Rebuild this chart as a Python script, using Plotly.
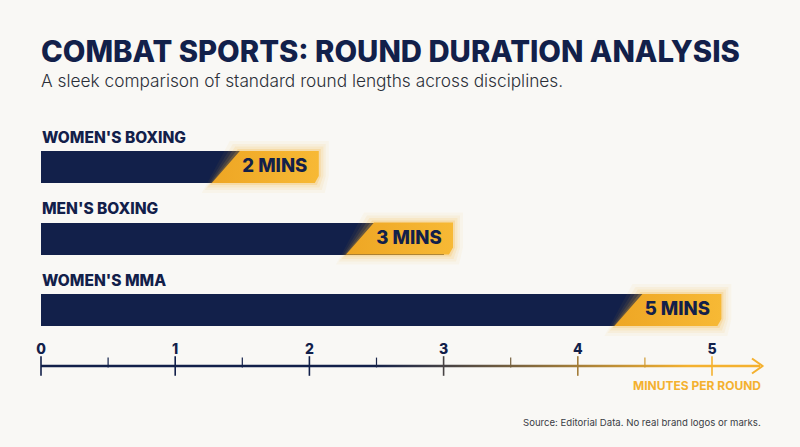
import plotly.graph_objects as go

# ── data ────────────────────────────────────────────────────────
categories = ["WOMEN'S BOXING", "MEN'S BOXING", "WOMEN'S MMA"]
minutes = [2, 3, 5]
value_labels = ["2 MINS", "3 MINS", "5 MINS"]
tick_values = [0, 1, 2, 3, 4, 5]
tick_labels = ["0", "1", "2", "3", "4", "5"]
minor_ticks = [0.5, 1.5, 2.5, 3.5, 4.5]

# ── layout constants (pixels) ───────────────────────────────────
W, H = 800, 447
X0_PX = 41
PX_PER_MIN = 134.2
ROW_Y = [167, 238.5, 310]
BAR_H = 32
AXIS_Y = 366
TAG_PAD = 0.07

NAVY = "#12204a"
GOLD = "#f4b12f"
BG = "#f9f8f5"
FONT = "Inter"


def px(n):
    # pixel length -> minutes
    return n / PX_PER_MIN


def px2x(p):
    return (p - X0_PX) / PX_PER_MIN


def mix(t):
    t = max(0.0, min(1.0, t))
    a = [int(NAVY[i:i + 2], 16) for i in (1, 3, 5)]
    b = [int(GOLD[i:i + 2], 16) for i in (1, 3, 5)]
    c = [round(a[k] + (b[k] - a[k]) * t) for k in range(3)]
    return f"rgb({c[0]},{c[1]},{c[2]})"


def axis_color(v):
    # same ramp as the axis line gradient
    return mix((v - 2.4) / (4.9 - 2.4))


def tag_shape(v, yc, grow=0.0):
    right = v + TAG_PAD
    top, bot = yc - BAR_H / 2 - grow, yc + BAR_H / 2 + grow
    g = px(grow)
    xs = [right - px(79) - g, right + g, right + g, right - px(4) + g,
          right - px(107) - g, right - px(79) - g]
    ys = [top, top, top + 25 + grow, bot, bot, top]
    return xs, ys


fig = go.Figure()

# navy bars
fig.add_trace(go.Bar(
    x=minutes, y=ROW_Y, base=0, orientation="h", width=BAR_H,
    marker=dict(color=NAVY, line=dict(width=0)),
    hoverinfo="skip", showlegend=False
))

# gold tags with a soft glow
for v, yc, lab in zip(minutes, ROW_Y, value_labels):
    for grow, alpha in [(10, 0.05), (7, 0.08), (4.5, 0.12), (2, 0.2)]:
        xs, ys = tag_shape(v, yc, grow)
        fig.add_trace(go.Scatter(
            x=xs, y=ys, mode="lines", fill="toself",
            fillcolor=f"rgba(244,177,47,{alpha})", line=dict(width=0),
            hoverinfo="skip", showlegend=False
        ))
    xs, ys = tag_shape(v, yc)
    fig.add_trace(go.Scatter(
        x=xs, y=ys, mode="lines", fill="toself",
        fillgradient=dict(type="horizontal",
                          colorscale=[[0, "#eea624"], [1, "#f7b935"]]),
        line=dict(width=0), hoverinfo="skip", showlegend=False
    ))
    fig.add_trace(go.Scatter(
        x=[v + TAG_PAD - px(44)], y=[yc + 0.5], mode="text", text=[lab],
        textfont=dict(family=FONT, size=18.5, color=NAVY, weight=800),
        hoverinfo="skip", showlegend=False
    ))

# axis line with navy -> gold gradient
x_end = px2x(760)
fig.add_trace(go.Scatter(
    x=[0, x_end, x_end, 0, 0],
    y=[AXIS_Y - 1.3, AXIS_Y - 1.3, AXIS_Y + 1.3, AXIS_Y + 1.3, AXIS_Y - 1.3],
    mode="lines", fill="toself",
    fillgradient=dict(type="horizontal",
                      colorscale=[[0, NAVY], [0.46, NAVY], [0.9, GOLD], [1, GOLD]]),
    line=dict(width=0), hoverinfo="skip", showlegend=False
))

# arrow head
fig.add_trace(go.Scatter(
    x=[px2x(752), px2x(762.5), px2x(752)],
    y=[AXIS_Y - 7.5, AXIS_Y, AXIS_Y + 7.5],
    mode="lines", line=dict(color=GOLD, width=2),
    hoverinfo="skip", showlegend=False
))

# ticks
fig.add_trace(go.Scatter(
    x=tick_values, y=[AXIS_Y] * len(tick_values), mode="markers",
    marker=dict(symbol="line-ns", size=14,
                line=dict(width=1.6, color=[axis_color(v) for v in tick_values])),
    hoverinfo="skip", showlegend=False
))
fig.add_trace(go.Scatter(
    x=minor_ticks, y=[AXIS_Y - 3.5] * len(minor_ticks), mode="markers",
    marker=dict(symbol="line-ns", size=7,
                line=dict(width=1.2, color=[axis_color(v) for v in minor_ticks])),
    hoverinfo="skip", showlegend=False
))

annotations = []
for cat, yc in zip(categories, ROW_Y):
    annotations.append(dict(
        x=0, y=yc - 30, xref="x", yref="y", text=cat, showarrow=False,
        xanchor="left", yanchor="middle", borderpad=0,
        font=dict(family=FONT, size=15.5, color=NAVY, weight=800)
    ))

annotations += [
    dict(x=X0_PX / W - 0.003, y=1 - 52 / H, xref="paper", yref="paper",
         text="COMBAT SPORTS: ROUND DURATION ANALYSIS", showarrow=False,
         xanchor="left", yanchor="middle",
         font=dict(family=FONT, size=29.3, color=NAVY, weight=800)),
    dict(x=X0_PX / W - 0.003, y=1 - 81 / H, xref="paper", yref="paper",
         text="A sleek comparison of standard round lengths across disciplines.",
         showarrow=False, xanchor="left", yanchor="middle",
         font=dict(family=FONT, size=17.3, color="#2b2f38", weight=300)),
    dict(x=763 / W, y=1 - 385 / H, xref="paper", yref="paper",
         text="MINUTES PER ROUND", showarrow=False,
         xanchor="right", yanchor="middle",
         font=dict(family=FONT, size=12, color=GOLD, weight=700)),
    dict(x=763 / W, y=1 - 422 / H, xref="paper", yref="paper",
         text="Source: Editorial Data. No real brand logos or marks.",
         showarrow=False, xanchor="right", yanchor="middle",
         font=dict(family=FONT, size=9.6, color="#3a3d45")),
]

fig.update_layout(
    width=W, height=H,
    margin=dict(l=0, r=0, t=0, b=0),
    paper_bgcolor=BG, plot_bgcolor=BG,
    showlegend=False,
    bargap=0,
    annotations=annotations,
    xaxis=dict(
        range=[px2x(0), px2x(W)], anchor="free", position=(H - AXIS_Y) / H,
        side="top", tickvals=tick_values, ticktext=tick_labels,
        ticks="", showgrid=False, zeroline=False, showline=False,
        ticklabelstandoff=9,
        tickfont=dict(family=FONT, size=14, color=NAVY, weight=800),
        fixedrange=True
    ),
    yaxis=dict(range=[H, 0], visible=False, fixedrange=True),
)

# page without the default body margin so the chart fills the window
fig.write_html("out.html", config={"displayModeBar": False},
               post_script="document.body.style.margin='0';")
